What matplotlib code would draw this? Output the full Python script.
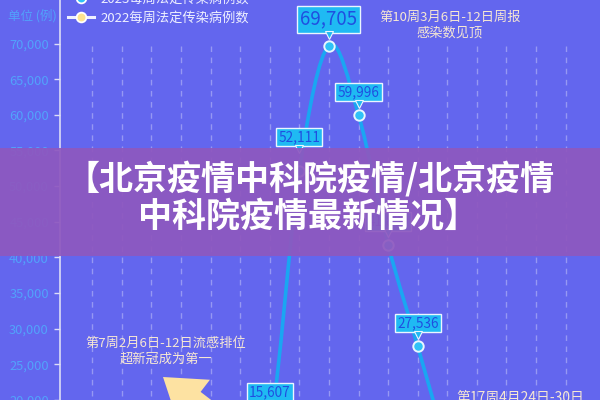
import matplotlib
matplotlib.use("Agg")
import matplotlib.pyplot as plt
from matplotlib.path import Path
from matplotlib.patches import PathPatch, Rectangle
from matplotlib.lines import Line2D
from matplotlib import transforms
import numpy as np

plt.rcParams['font.family'] = ['Noto Sans CJK SC', 'DejaVu Sans']

# ---------------- data ----------------
weeks_2023 = [7, 8, 9, 10, 11, 12, 13, 14]
cases_2023 = [6000, 15607, 52111, 69705, 59996, 41800, 27536, 13000]
labelled_weeks = [8, 9, 10, 11, 12, 13]
grid_weeks = list(range(2, 19))
y_ticks = [20000, 25000, 30000, 35000, 40000, 45000, 50000, 55000, 60000, 65000, 70000]
series_names = ["2023每周法定传染病例数", "2022每周法定传染病例数"]
unit_label = "单位 (例)"
note_peak = "第10周3月6日-12日周报\n感染数见顶"
note_flu = "第7周2月6日-12日流感排位\n超新冠成为第一"
note_w17 = "第17周4月24日-30日"
banner_1 = "【北京疫情中科院疫情/北京疫情"
banner_2 = "中科院疫情最新情况】"

# ---------------- style ----------------
BG = '#6366ee'
LINE = '#1aa6f2'
BOX = '#1fbaf3'
BOXTXT = '#1f4fe0'
TICK = '#52a2fb'
NOTE = '#f6e7d3'
label_offsets = {8: 11.5, 9: 8}   # extra label offsets (points)

fig = plt.figure(figsize=(6, 4), dpi=100)
fig.patch.set_facecolor(BG)
ax = fig.add_axes([0.1, 0.0, 0.9, 1.0])
ax.set_facecolor('none')

ymin, ymax = 20556, 76111
ax.set_ylim(ymin, ymax)
ax.set_xlim(0.912, 19.16)

for s in ['top', 'right', 'bottom']:
    ax.spines[s].set_visible(False)
ax.spines['left'].set_color('#dcdcf6')
ax.spines['left'].set_linewidth(1.2)
ax.set_xticks([])
ax.set_yticks(y_ticks)
ax.set_yticklabels([f"{v:,}" for v in y_ticks], fontsize=9.3)
ax.tick_params(axis='y', colors='#dcdcf6', labelcolor=TICK, length=4, width=1, pad=4)

# dashed vertical grid up to the top tick
ax.vlines(grid_weeks, ymin, max(y_ticks), colors=(1, 1, 1, 0.33),
          linestyles=(0, (4, 4)), linewidth=1, zorder=1)

# smooth line through data (bezier path in data coords)
pts = np.column_stack([weeks_2023, cases_2023]).astype(float)
k = 0.17
verts = [tuple(pts[0])]
codes = [Path.MOVETO]
n = len(pts)
for i in range(n - 1):
    p0 = pts[max(i - 1, 0)]
    p1 = pts[i]
    p2 = pts[i + 1]
    p3 = pts[min(i + 2, n - 1)]
    c1 = p1 + k * (p2 - p0)
    c2 = p2 - k * (p3 - p1)
    verts += [tuple(c1), tuple(c2), tuple(p2)]
    codes += [Path.CURVE4] * 3
ax.add_patch(PathPatch(Path(verts, codes), fc='none', ec=LINE, lw=2.6, zorder=3,
                       capstyle='round', joinstyle='round'))

# markers + labels
for w, v in zip(weeks_2023, cases_2023):
    if w not in labelled_weeks:
        continue
    ax.plot([w], [v], 'o', ms=7.5, mfc='#2fc2f7', mec='#e8f6ff', mew=1.4, zorder=5)
    big = (v == max(cases_2023))
    fs = 13.5 if big else 9.8
    extra = label_offsets.get(w, 0)
    ax.annotate(f"{v:,}", xy=(w, v), xytext=(0, 11.5 + extra), textcoords='offset points',
                ha='center', va='bottom', fontsize=fs, annotation_clip=False,
                color=BOXTXT, zorder=6,
                bbox=dict(boxstyle='square,pad=0.16', fc=BOX, ec='#eaf6ff', lw=1))
    tr = transforms.offset_copy(ax.transData, fig=fig, x=0, y=8 + extra, units='points')
    ax.plot([w], [v], marker='v', ms=6, mfc=BOX, mec='#eaf6ff', mew=0.8,
            transform=tr, zorder=7)

# legend
h23 = Line2D([], [], color=LINE, lw=2.2, marker='o', ms=7, mfc='#2fc2f7', mec='white', mew=1.3)
h22 = Line2D([], [], color='#eef0ff', lw=2.2, marker='o', ms=7, mfc='#fde48f', mec='white', mew=1.3)
leg = ax.legend([h23, h22], series_names, loc='upper left',
                bbox_to_anchor=(68 / 600, 1 + 7 / 400), bbox_transform=fig.transFigure,
                frameon=False, fontsize=9.5, labelcolor='#eef0ff', handlelength=2.0,
                handletextpad=0.45, labelspacing=0.4, borderpad=0, borderaxespad=0)

# unit label
fig.text(8 / 600, 1 - 16 / 400, unit_label, color=TICK, fontsize=9, ha='left', va='center')

# notes
fig.text(450 / 600, 1 - 25 / 400, note_peak, color=NOTE, fontsize=9.5, ha='center',
         va='center', linespacing=1.25)
fig.text(166 / 600, 1 - 351 / 400, note_flu, color=NOTE, fontsize=9.5, ha='center',
         va='center', linespacing=1.25)
fig.text(520 / 600, 1 - 391 / 400, note_w17, color=NOTE, fontsize=10, ha='center', va='top')

# yellow arrow
ax.annotate('', xy=(163, 400 - 377), xytext=(245, 400 - 440), xycoords='figure pixels',
            textcoords='figure pixels',
            arrowprops=dict(arrowstyle='simple,head_width=1.9,head_length=1.4,tail_width=0.8',
                            fc='#fde2a2', ec='none', mutation_scale=20, shrinkA=0, shrinkB=0))

# banner
fig.add_artist(Rectangle((0, 1 - 256 / 400), 1, 108 / 400, transform=fig.transFigure,
                         fc='#8e58bf', ec='none', alpha=0.93, zorder=20))
fig.text(310 / 600, 1 - 179 / 400, banner_1, color='white', fontsize=24.5, fontweight='bold',
         ha='center', va='center', zorder=21)
fig.text(308 / 600, 1 - 216 / 400, banner_2, color='white', fontsize=24.5, fontweight='bold',
         ha='center', va='center', zorder=21)

fig.savefig('out.png', dpi=100, facecolor=BG)
